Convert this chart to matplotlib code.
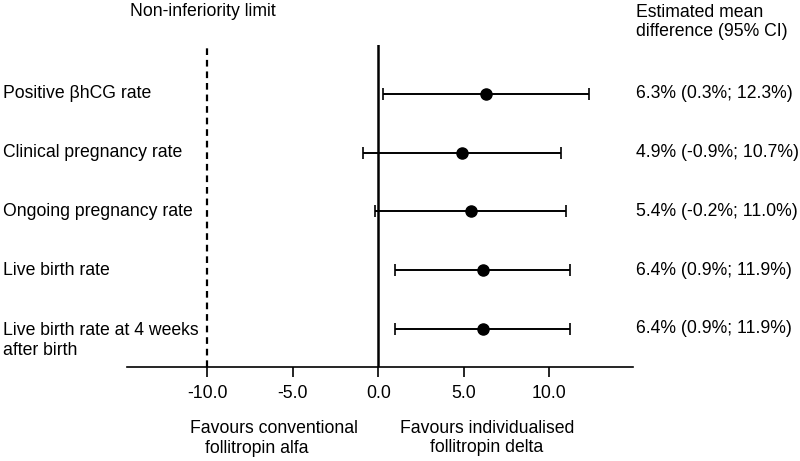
import matplotlib
matplotlib.use("Agg")
import matplotlib.pyplot as plt
import matplotlib.transforms as mtransforms

plt.rcParams['font.family'] = ['Liberation Sans', 'DejaVu Sans']

# outcomes, top to bottom
outcomes = ["Positive βhCG rate", "Clinical pregnancy rate", "Ongoing pregnancy rate",
            "Live birth rate", "Live birth rate at 4 weeks\nafter birth"]
# drawn estimates and CI limits
estimate = [6.3, 4.9, 5.4, 6.1, 6.1]
ci_low = [0.3, -0.9, -0.2, 1.0, 1.0]
ci_high = [12.3, 10.7, 11.0, 11.2, 11.2]
# printed text on the right
ci_text = ["6.3% (0.3%; 12.3%)", "4.9% (-0.9%; 10.7%)", "5.4% (-0.2%; 11.0%)",
           "6.4% (0.9%; 11.9%)", "6.4% (0.9%; 11.9%)"]
xticks = [-10, -5, 0, 5, 10]
margin = -10

fig = plt.figure(figsize=(8, 4.61), dpi=100)
ax = fig.add_axes([127/800, 1 - 367/461, (633 - 127)/800, (367 - 45)/461])

rows = list(range(len(outcomes)))
err = [[e - l for e, l in zip(estimate, ci_low)], [h - e for e, h in zip(estimate, ci_high)]]
ax.errorbar(estimate, rows, xerr=err, fmt='o', color='black', ecolor='black',
            markersize=8, elinewidth=1.4, capsize=4.5, capthick=1.2)

ax.axvline(0, color='black', lw=1.8)
ax.axvline(margin, color='black', lw=1.6, ls=(0, (3, 2.2)))

fs = 12.7
ax.set_xlim(-14.7, 14.9)
ax.set_ylim(4.65, -0.83)
ax.set_xticks(xticks)
ax.set_xticklabels([f"{t:.1f}" for t in xticks], fontsize=fs)
ax.set_yticks([])
for s in ['left', 'top', 'right']:
    ax.spines[s].set_visible(False)
ax.spines['bottom'].set_linewidth(1.2)
ax.tick_params(axis='x', length=7, width=1.2, pad=6)

left_tr = mtransforms.blended_transform_factory(fig.transFigure, ax.transData)
for i, (name, txt) in enumerate(zip(outcomes, ci_text)):
    if "\n" in name:
        ax.text(3/800, i + 0.2, name, transform=left_tr, ha='left', va='center',
                fontsize=fs, linespacing=1.2)
    else:
        ax.text(3/800, i, name, transform=left_tr, ha='left', va='center', fontsize=fs)
    ax.text(636/800, i, txt, transform=left_tr, ha='left', va='center', fontsize=fs)

fig.text(636/800, 1 - 22/461, "Estimated mean\ndifference (95% CI)", ha='left', va='center',
         fontsize=fs, linespacing=1.2)
fig.text(203/800, 1 - 11/461, "Non-inferiority limit", ha='center', va='center', fontsize=fs)

fig.text(190/800, 1 - 428/461, "Favours conventional", ha='left', va='center', fontsize=fs)
fig.text(205/800, 1 - 448/461, "follitropin alfa", ha='left', va='center', fontsize=fs)
fig.text(487/800, 1 - 438/461, "Favours individualised\nfollitropin delta", ha='center',
         va='center', fontsize=fs, linespacing=1.2)

fig.savefig("out.png", dpi=100)
